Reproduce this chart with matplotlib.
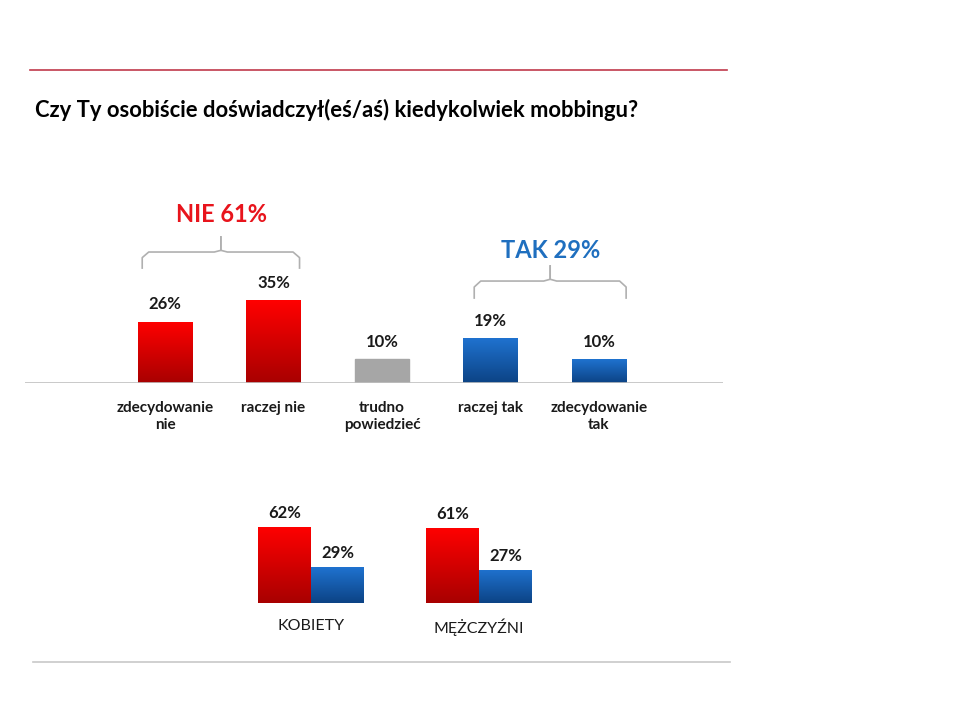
import numpy as np
import matplotlib
matplotlib.use('Agg')
import matplotlib.pyplot as plt
from matplotlib.colors import LinearSegmentedColormap
from matplotlib.lines import Line2D

plt.rcParams['font.family'] = ['Lato', 'DejaVu Sans']

title = 'Czy Ty osobiście doświadczył(eś/aś) kiedykolwiek mobbingu?'
categories = ['zdecydowanie\nnie', 'raczej nie', 'trudno\npowiedzieć', 'raczej tak', 'zdecydowanie\ntak']
values = [26, 35, 10, 19, 10]
kinds = ['nie', 'nie', 'mid', 'tak', 'tak']
group_nie = 'NIE 61%'
group_tak = 'TAK 29%'

genders = ['KOBIETY', 'MĘŻCZYŹNI']
nie_by_gender = [62, 61]
tak_by_gender = [29, 27]

RED_TOP, RED_BOT = '#ff0000', '#a80000'
BLUE_TOP, BLUE_BOT = '#1f72cf', '#0c4385'
GRAY = '#a6a6a6'


def grad_fill(ax, bar, top, bottom):
    cmap = LinearSegmentedColormap.from_list('g', [bottom, top])
    x, y = bar.get_x(), bar.get_y()
    w, h = bar.get_width(), bar.get_height()
    im = ax.imshow(np.linspace(0, 1, 100).reshape(-1, 1), cmap=cmap,
                   extent=[x, x + w, y, y + h], origin='lower',
                   aspect='auto', zorder=3)
    im.set_clip_path(bar)


fig = plt.figure(figsize=(9.6, 7.2), dpi=100)
W, H = 960, 720

# header / footer lines and title
fig.add_artist(Line2D([30 / W, 727 / W], [1 - 70 / H, 1 - 70 / H], color='#c0394b', lw=1.2))
fig.add_artist(Line2D([33 / W, 730 / W], [1 - 662 / H, 1 - 662 / H], color='#c8c8c8', lw=1.2))
fig.text(35 / W, 1 - 110 / H, title, fontsize=15.8, fontweight='bold', va='center', ha='left')

# ---- main chart ----
px_per_unit = 108.5
ax = fig.add_axes([25 / W, 1 - 383 / H, (723 - 25) / W, (383 - 190) / H])
x = np.arange(len(categories))
bars = ax.bar(x, values, width=0.5, color='white', zorder=2)
for b, k in zip(bars, kinds):
    if k == 'nie':
        grad_fill(ax, b, RED_TOP, RED_BOT)
    elif k == 'tak':
        grad_fill(ax, b, BLUE_TOP, BLUE_BOT)
    else:
        b.set_color(GRAY)
for xi, v in zip(x, values):
    ax.text(xi, v + 4, f'{v}%', ha='center', va='bottom', fontsize=12, fontweight='bold', color='#1a1a1a')
for xi, c in zip(x, categories):
    ax.text(xi, -7.5, c, ha='center', va='top', fontsize=11, fontweight='bold', color='#1a1a1a', linespacing=1.3)

ax.set_xlim((25 - 165) / px_per_unit, (723 - 165) / px_per_unit)
ax.set_ylim(0, (383 - 190) / 2.36)
ax.axhline(0, color='#c0c0c0', lw=1.2, zorder=4)
for s in ax.spines.values():
    s.set_visible(False)
ax.set_xticks([])
ax.set_yticks([])


def brace(ax, x0, x1, y_end, y_mid, y_tip, color='#b0b0b0'):
    xm = (x0 + x1) / 2
    r = 0.06
    d = (y_mid - y_end) * 0.35
    xs = [x0, x0, x0 + r, xm - r, xm, xm, xm, xm + r, x1 - r, x1, x1]
    ys = [y_end, y_mid - d, y_mid, y_mid, y_mid + d * 0.3, y_tip, y_mid + d * 0.3, y_mid, y_mid, y_mid - d, y_end]
    ax.plot(xs[:6], ys[:6], color=color, lw=1.2, clip_on=False)
    ax.plot(xs[5:], ys[5:], color=color, lw=1.2, clip_on=False)


brace(ax, -0.21, 1.24, 48.7, 55.5, 61.9)
ax.text(0.52, 71.6, group_nie, ha='center', va='center', fontsize=17, fontweight='bold', color='#e8141c')
brace(ax, 2.85, 4.25, 36.0, 43.2, 49.6)
ax.text(3.55, 56.0, group_tak, ha='center', va='center', fontsize=17, fontweight='bold', color='#1f6fbf')

# ---- gender chart ----
ax2 = fig.add_axes([200 / W, 1 - 603 / H, 400 / W, 113 / H])
g = np.arange(len(genders))
bw = 53 / 168
b_nie = ax2.bar(g - bw / 2, nie_by_gender, width=bw, color='white', zorder=2)
b_tak = ax2.bar(g + bw / 2, tak_by_gender, width=bw, color='white', zorder=2)
for b in b_nie:
    grad_fill(ax2, b, RED_TOP, RED_BOT)
for b in b_tak:
    grad_fill(ax2, b, BLUE_TOP, BLUE_BOT)
for gi, v in zip(g, nie_by_gender):
    ax2.text(gi - bw / 2, v + 5, f'{v}%', ha='center', va='bottom', fontsize=12, fontweight='bold', color='#1a1a1a')
for gi, v in zip(g, tak_by_gender):
    ax2.text(gi + bw / 2, v + 5, f'{v}%', ha='center', va='bottom', fontsize=12, fontweight='bold', color='#1a1a1a')
for gi, name in zip(g, genders):
    ax2.text(gi, -13, name, ha='center', va='top', fontsize=11.5, color='#1a1a1a')
ax2.set_xlim((200 - 311) / 168, (600 - 311) / 168)
ax2.set_ylim(0, 113 / 1.23)
for s in ax2.spines.values():
    s.set_visible(False)
ax2.set_xticks([])
ax2.set_yticks([])

fig.savefig('out.png', dpi=100)
